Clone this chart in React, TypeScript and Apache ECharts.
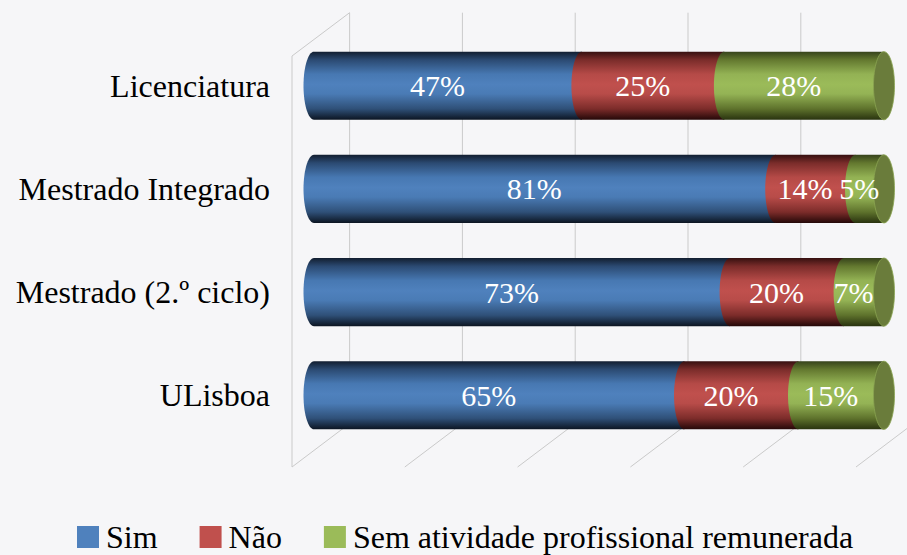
import React, { useEffect, useRef } from "react";
import * as echarts from "echarts";

const categories = ["Licenciatura", "Mestrado Integrado", "Mestrado (2.º ciclo)", "ULisboa"];
const seriesNames = ["Sim", "Não", "Sem atividade profissional remunerada"];
const sim = [47, 81, 73, 65];
const nao = [25, 14, 20, 20];
const sem = [28, 5, 7, 15];

const FONT = "Liberation Serif";
const RX = 10.5;
const BAR_RATIO = 0.66;

const baseColors = ["#4f81bd", "#c0504d", "#9bbb59"];
const gradStops = [
  ["#121e30", "#2b4a72", "#4778b2", "#4f81bd", "#4a7bb5", "#2f5078", "#0c1522"],
  ["#361010", "#7a2c2a", "#b54a47", "#c0504d", "#b84c49", "#7c2c2a", "#240808"],
  ["#36431b", "#63782f", "#93b254", "#9bbb59", "#94b355", "#5e722c", "#29330f"],
];

function makeGrad(i: number) {
  const s = gradStops[i];
  const offs = [0, 0.12, 0.33, 0.48, 0.62, 0.84, 1];
  return new echarts.graphic.LinearGradient(
    0, 0, 0, 1,
    offs.map((o, k) => ({ offset: o, color: s[k] }))
  );
}

function buildData(idx: number) {
  const all = [sim, nao, sem];
  return categories.map((_, c) => {
    let start = 0;
    for (let j = 0; j < idx; j++) start += all[j][c];
    const v = all[idx][c];
    return [start, start + v, c, v];
  });
}

export default function App() {
  const ref = useRef<HTMLDivElement>(null);
  useEffect(() => {
    document.body.style.margin = "0";
    const chart = echarts.init(ref.current!, null, { renderer: "svg" });

    const renderFactory = (idx: number) => (params: any, api: any) => {
      const s = api.value(0), e = api.value(1), c = api.value(2), v = api.value(3);
      const p0 = api.coord([s, c]);
      const p1 = api.coord([e, c]);
      const band = api.size([0, 1])[1];
      const ry = (band * BAR_RATIO) / 2;
      const cy = p0[1];
      const x0 = p0[0], x1 = p1[0];
      const top = cy - ry, bot = cy + ry;
      const pts: number[][] = [[x0, top], [x1, top], [x1, bot], [x0, bot]];
      const N = 30;
      for (let k = 1; k < N; k++) {
        const t = (Math.PI * k) / N;
        pts.push([x0 - RX * Math.sin(t), cy + ry * Math.cos(t)]);
      }
      const children: any[] = [
        { type: "polygon", shape: { points: pts }, style: { fill: makeGrad(idx) } },
      ];
      if (idx === 2) {
        children.push({
          type: "ellipse",
          shape: { cx: x1, cy, rx: RX, ry },
          style: { fill: "#6a7c3b", stroke: "#8aa452", lineWidth: 0.8 },
        });
      }
      children.push({
        type: "text",
        x: (x0 + x1) / 2 - RX,
        y: cy,
        z2: 10,
        style: {
          text: v + "%",
          fill: "#ffffff",
          fontSize: 30,
          fontFamily: FONT,
          align: "center",
          verticalAlign: "middle",
        },
      });
      return { type: "group", children };
    };

    const gridColor = "#cacaca";
    const walls: any[] = [];
    const backX0 = 349.6, frontX0 = 292, step = 112.8;
    const backTop = 12.7, backBot = 423.5, frontTop = 56, frontBot = 467;
    for (let k = 0; k < 5; k++) {
      walls.push({
        type: "line",
        shape: { x1: backX0 + k * step, y1: backTop, x2: backX0 + k * step, y2: backBot },
        style: { stroke: gridColor, lineWidth: 1 },
      });
    }
    for (let k = 0; k < 6; k++) {
      walls.push({
        type: "line",
        shape: { x1: frontX0 + k * step, y1: frontBot, x2: backX0 + k * step, y2: backBot },
        style: { stroke: gridColor, lineWidth: 1 },
      });
    }
    walls.push({
      type: "line",
      shape: { x1: frontX0, y1: frontTop, x2: frontX0, y2: frontBot },
      style: { stroke: gridColor, lineWidth: 1 },
    });
    walls.push({
      type: "line",
      shape: { x1: frontX0, y1: frontTop, x2: backX0, y2: backTop },
      style: { stroke: gridColor, lineWidth: 1 },
    });

    chart.setOption({
      animation: false,
      backgroundColor: "#f6f6f8",
      textStyle: { fontFamily: FONT },
      grid: { left: 314, right: 23, top: 34.1, bottom: 108.1, containLabel: false },
      xAxis: { type: "value", min: 0, max: 100, show: false },
      yAxis: {
        type: "category",
        data: categories,
        inverse: true,
        axisLine: { show: false },
        axisTick: { show: false },
        splitLine: { show: false },
        axisLabel: { fontSize: 32, fontFamily: FONT, color: "#000000", margin: 44 },
      },
      legend: {
        data: seriesNames,
        left: 77,
        top: 521,
        padding: 0,
        icon: "rect",
        itemWidth: 22,
        itemHeight: 22,
        itemGap: 42,
        textStyle: { fontSize: 32, fontFamily: FONT, color: "#000000", padding: [0, 0, 0, 2] },
      },
      graphic: walls.map((w) => ({ ...w, z: 0, silent: true })),
      series: seriesNames.map((name, i) => ({
        name,
        type: "custom",
        z: 3,
        itemStyle: { color: baseColors[i] },
        encode: { x: [0, 1], y: 2 },
        renderItem: renderFactory(i),
        data: buildData(i),
      })),
    });
    return () => chart.dispose();
  }, []);
  return <div ref={ref} style={{ width: 907, height: 555 }} />;
}
